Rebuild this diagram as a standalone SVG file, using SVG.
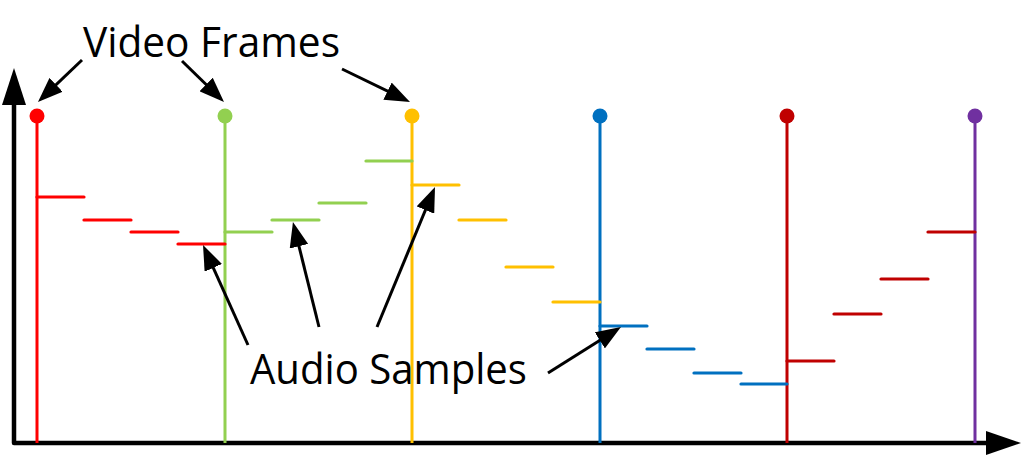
<svg xmlns="http://www.w3.org/2000/svg" width="1024" height="457" viewBox="0 0 1024 457">
<style>
.lbl{font-family:"Open Sans","Liberation Sans",Arial,sans-serif;font-size:42px;fill:#000}
.v{stroke-width:3;fill:none}
.s{stroke-width:3.2;stroke-linecap:round;fill:none}
.ptr{stroke:#000;stroke-width:3;fill:none;marker-end:url(#ah)}
.r{stroke:#FF0000}.g{stroke:#92D050}.y{stroke:#FFC000}.b{stroke:#0070C0}.d{stroke:#C00000}.p{stroke:#7030A0}
</style>
<defs>
<marker id="ah" markerUnits="userSpaceOnUse" markerWidth="25" markerHeight="19" refX="19" refY="9.5" orient="auto" viewBox="0 0 25 19">
<path d="M0,0 L25,9.5 L0,19 z" fill="#000"/>
</marker>
</defs>
<rect width="1024" height="457" fill="#fff"/>
<g id="axes">
<path d="M14,100 L14,443 L990,443" stroke="#000" stroke-width="4.5" fill="none" stroke-linejoin="round"/>
<polygon points="14,68 2,105 26,105" fill="#000"/>
<polygon points="1021,443 986,431 986,455" fill="#000"/>
</g>
<g id="frame1"><line class="v r" x1="37" y1="116" x2="37" y2="443"/><circle cx="37" cy="116" r="7.5" fill="#FF0000"/></g>
<g id="frame2"><line class="v g" x1="225" y1="116" x2="225" y2="443"/><circle cx="225" cy="116" r="7.5" fill="#92D050"/></g>
<g id="frame3"><line class="v y" x1="412" y1="116" x2="412" y2="443"/><circle cx="412" cy="116" r="7.5" fill="#FFC000"/></g>
<g id="frame4"><line class="v b" x1="600" y1="116" x2="600" y2="443"/><circle cx="600" cy="116" r="7.5" fill="#0070C0"/></g>
<g id="frame5"><line class="v d" x1="787" y1="116" x2="787" y2="443"/><circle cx="787" cy="116" r="7.5" fill="#C00000"/></g>
<g id="frame6"><line class="v p" x1="975" y1="116" x2="975" y2="443"/><circle cx="975" cy="116" r="7.5" fill="#7030A0"/></g>
<g id="samples">
<line class="s r" x1="37" y1="197" x2="84" y2="197"/>
<line class="s r" x1="84" y1="220" x2="131" y2="220"/>
<line class="s r" x1="131" y1="232" x2="178" y2="232"/>
<line class="s r" x1="178" y1="244" x2="225" y2="244"/>
<line class="s g" x1="225" y1="232" x2="272" y2="232"/>
<line class="s g" x1="272" y1="220" x2="319" y2="220"/>
<line class="s g" x1="319" y1="203" x2="366" y2="203"/>
<line class="s g" x1="366" y1="161" x2="412" y2="161"/>
<line class="s y" x1="412" y1="185" x2="459" y2="185"/>
<line class="s y" x1="459" y1="220" x2="506" y2="220"/>
<line class="s y" x1="506" y1="267" x2="553" y2="267"/>
<line class="s y" x1="553" y1="302" x2="600" y2="302"/>
<line class="s b" x1="600" y1="326" x2="647" y2="326"/>
<line class="s b" x1="647" y1="349" x2="694" y2="349"/>
<line class="s b" x1="694" y1="373" x2="741" y2="373"/>
<line class="s b" x1="741" y1="384" x2="787" y2="384"/>
<line class="s d" x1="787" y1="361" x2="834" y2="361"/>
<line class="s d" x1="834" y1="314" x2="881" y2="314"/>
<line class="s d" x1="881" y1="279" x2="928" y2="279"/>
<line class="s d" x1="928" y1="232" x2="975" y2="232"/>
</g>
<g id="label-video"><text class="lbl" x="83" y="57" textLength="257" lengthAdjust="spacingAndGlyphs">Video Frames</text></g>
<g id="label-audio"><text class="lbl" x="250" y="384" textLength="277" lengthAdjust="spacingAndGlyphs">Audio Samples</text></g>
<g id="connectors">
<line class="ptr" x1="82" y1="60" x2="42.3" y2="97.9"/>
<line class="ptr" x1="182" y1="61" x2="219.7" y2="97.8"/>
<line class="ptr" x1="342" y1="69" x2="404.6" y2="99.4"/>
<line class="ptr" x1="248" y1="345" x2="205.5" y2="250.5"/>
<line class="ptr" x1="319" y1="327" x2="294.4" y2="227.8"/>
<line class="ptr" x1="377" y1="327" x2="432.7" y2="192.5"/>
<line class="ptr" x1="548" y1="373" x2="615.9" y2="330.2"/>
</g>
</svg>
